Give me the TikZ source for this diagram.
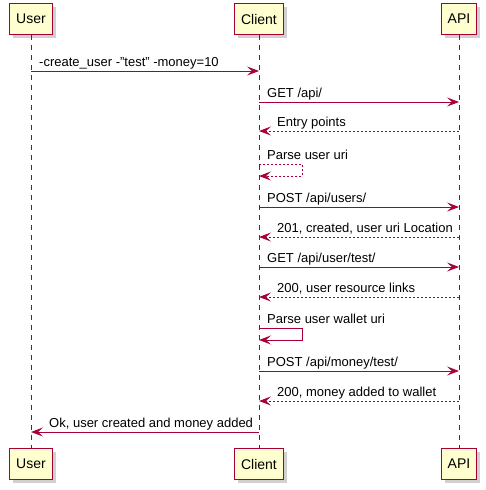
\documentclass[tikz,border=0pt]{standalone}
\usepackage{fontspec}
\setmainfont{Liberation Sans}
\usetikzlibrary{arrows.meta,shadows}
\definecolor{pu}{HTML}{A80036}
\definecolor{pfill}{HTML}{FEFECE}
\tikzset{
 part/.style={draw=pu, line width=1.5pt, fill=pfill, minimum height=31pt, inner sep=0pt,
   font=\fontsize{14}{16}\selectfont,
   drop shadow={shadow xshift=3pt, shadow yshift=-3pt, fill=black!30, opacity=.6}},
 life/.style={draw=pu, line width=1pt, dash pattern=on 5pt off 5pt},
 msg/.style={draw=pu, line width=1pt, -{Stealth[length=12pt,width=9pt,inset=5pt]}},
 ret/.style={msg, dash pattern=on 2pt off 2pt},
 lbl/.style={font=\fontsize{13}{15}\selectfont, inner sep=0pt, anchor=base west, text=black},
}
\begin{document}
\begin{tikzpicture}[x=1pt,y=-1pt]
\useasboundingbox (0,0) rectangle (485,490);
% participants
\node[part, minimum width=43pt] (Ut) at (31,19) {User};
\node[part, minimum width=49pt] (Ct) at (259,19) {Client};
\node[part, minimum width=35pt] (At) at (459,19) {API};
\node[part, minimum width=43pt] (Ub) at (31,464) {User};
\node[part, minimum width=49pt] (Cb) at (259,464) {Client};
\node[part, minimum width=35pt] (Ab) at (459,464) {API};
% lifelines
\draw[life] (Ut) -- (Ub);
\draw[life] (Ct) -- (Cb);
\draw[life] (At) -- (Ab);
% message rows
\coordinate (m1) at (0,71);
\coordinate (m2) at (0,102);
\coordinate (m3) at (0,131);
\coordinate (m4) at (0,164);
\coordinate (m4b) at (0,176);
\coordinate (m5) at (0,207);
\coordinate (m6) at (0,237);
\coordinate (m7) at (0,267);
\coordinate (m8) at (0,297);
\coordinate (m9) at (0,328);
\coordinate (m9b) at (0,340);
\coordinate (m10) at (0,371);
\coordinate (m11) at (0,401);
\coordinate (m12) at (0,432);
% messages
\draw[msg] (Ut |- m1) -- (Ct |- m1);
\path (Ut |- m1) ++(8,-5) node[lbl] (t1) {-create\_user -"test" -money=10};
\draw[msg] (Ct |- m2) -- (At |- m2);
\path (Ct |- m2) ++(8,-5) node[lbl] (t2) {GET /api/};
\draw[ret] (At |- m3) -- (Ct |- m3);
\path (Ct |- m3) ++(18,-5) node[lbl] (t3) {Entry points};
\draw[ret] (Ct |- m4) -- ++(43,0) -- ++(0,12) -- (Ct |- m4b);
\path (Ct |- m4) ++(8,-5) node[lbl] (t4) {Parse user uri};
\draw[msg] (Ct |- m5) -- (At |- m5);
\path (Ct |- m5) ++(8,-5) node[lbl] (t5) {POST /api/users/};
\draw[ret] (At |- m6) -- (Ct |- m6);
\path (Ct |- m6) ++(18,-5) node[lbl] (t6) {201, created, user uri Location};
\draw[msg] (Ct |- m7) -- (At |- m7);
\path (Ct |- m7) ++(8,-5) node[lbl] (t7) {GET /api/user/test/};
\draw[ret] (At |- m8) -- (Ct |- m8);
\path (Ct |- m8) ++(18,-5) node[lbl] (t8) {200, user resource links};
\draw[msg] (Ct |- m9) -- ++(43,0) -- ++(0,12) -- (Ct |- m9b);
\path (Ct |- m9) ++(8,-5) node[lbl] (t9) {Parse user wallet uri};
\draw[msg] (Ct |- m10) -- (At |- m10);
\path (Ct |- m10) ++(8,-5) node[lbl] (t10) {POST /api/money/test/};
\draw[ret] (At |- m11) -- (Ct |- m11);
\path (Ct |- m11) ++(18,-5) node[lbl] (t11) {200, money added to wallet};
\draw[msg] (Ct |- m12) -- (Ut |- m12);
\path (Ut |- m12) ++(18,-5) node[lbl] (t12) {Ok, user created and money added};
\end{tikzpicture}
\end{document}
